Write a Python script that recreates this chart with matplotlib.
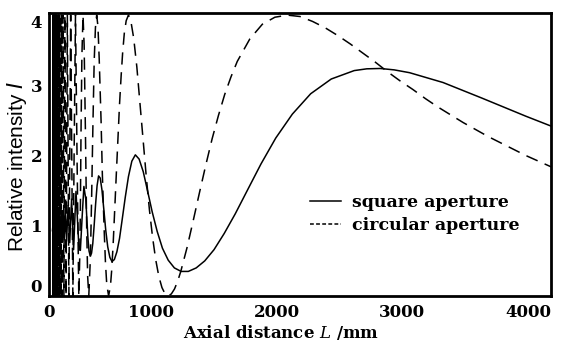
import matplotlib
matplotlib.use("Agg")
import matplotlib.pyplot as plt
from matplotlib.lines import Line2D

# ---------------- data ----------------
# circular aperture: axial distance (mm) and relative intensity
circ_L = [30.6, 31.1, 31.7, 32.2, 32.8, 33.3, 33.9, 34.5, 35.2, 35.8,
          36.5, 37.3, 38.0, 38.8, 39.6, 40.4, 41.3, 42.2, 43.2, 44.2,
          45.2, 46.3, 47.5, 48.7, 50.0, 51.4, 52.8, 54.3, 55.9, 57.6,
          59.4, 61.3, 63.3, 65.5, 67.9, 70.4, 73.1, 76.0, 79.2, 82.6,
          86.4, 90.5, 95.0, 100.0, 105.6, 111.8, 118.8, 126.7, 135.7, 146.2,
          158.3, 172.7, 190, 200, 211, 224, 237.5, 245, 250, 255,
          262, 271, 280, 290, 300, 308, 317, 330, 340, 350,
          360, 370, 380, 390, 400, 415, 425, 440, 450, 460,
          475, 490, 500, 512, 525, 537, 550, 562, 575, 587,
          600, 615, 633, 650, 675, 700, 725, 750, 775, 800,
          825, 850, 875, 900, 925, 950, 975, 1000, 1025, 1050,
          1100, 1150, 1200, 1250, 1300, 1350, 1400, 1450, 1500, 1600,
          1700, 1800, 1900, 2000, 2100, 2200, 2300, 2400, 2500, 2600,
          2700, 2800, 2900, 3000, 3100, 3200, 3300, 3400, 3500, 3600,
          3700, 3800, 3900, 4000]
circ_I = [0, 4, 0, 4, 0, 4, 0, 4, 0, 4,
          0, 4, 0, 4, 0, 4, 0, 4, 0, 4,
          0, 4, 0, 4, 0, 4, 0, 4, 0, 4,
          0, 4, 0, 4, 0, 4, 0, 4, 0, 4,
          0, 4, 0, 4, 0, 4, 0, 4, 0, 4,
          0, 4, 0, 2.0, 4.0, 1.89, 0, 0.56, 1.25, 2.31,
          3.41, 4.0, 3.57, 2.37, 1.0, 0.28, 0, 0.55, 1.44, 2.44,
          3.34, 3.82, 4.0, 3.84, 3.38, 2.49, 1.74, 0.92, 0.47, 0.17,
          0, 0.15, 0.38, 0.77, 1.30, 1.76, 2.26, 2.73, 3.14, 3.47,
          3.74, 3.92, 4.0, 3.94, 3.67, 3.26, 2.74, 2.21, 1.70, 1.23,
          0.84, 0.52, 0.28, 0.12, 0.03, 0, 0.03, 0.10, 0.21, 0.35,
          0.69, 1.08, 1.48, 1.87, 2.24, 2.57, 2.87, 3.12, 3.34, 3.66,
          3.87, 3.97, 4.0, 3.98, 3.91, 3.82, 3.71, 3.59, 3.46, 3.33,
          3.19, 3.06, 2.94, 2.81, 2.69, 2.58, 2.47, 2.37, 2.27, 2.18,
          2.09, 2.00, 1.92, 1.84]

# square aperture
sq_L = [28, 34, 40, 46, 52, 58, 64, 70, 76, 83,
        90, 98, 105, 113, 121, 130, 140, 152, 165, 180,
        196, 215, 237.5, 250, 263, 278, 293, 310, 319, 329,
        339, 349, 360, 371, 383, 395, 408, 422, 437, 452,
        468, 485, 502, 521, 541, 562, 584, 608, 633, 660,
        688, 718, 751, 785, 822, 862, 904, 950, 999, 1053,
        1110, 1173, 1241, 1315, 1396, 1484, 1582, 1689, 1807, 1939,
        2085, 2249, 2432, 2532, 2639, 2751, 2873, 3140, 3447, 3800,
        4000]
sq_I = [0.93, 1.08, 0.91, 1.09, 0.90, 1.11, 0.88, 1.13, 0.86, 1.15,
        0.84, 1.18, 0.82, 1.20, 0.80, 1.25, 0.78, 1.29, 0.76, 1.38,
        0.66, 1.49, 0.72, 0.65, 1.09, 1.56, 1.38, 0.83, 0.64, 0.57,
        0.61, 0.75, 1.01, 1.30, 1.57, 1.71, 1.68, 1.51, 1.23, 0.94,
        0.70, 0.55, 0.49, 0.52, 0.63, 0.82, 1.10, 1.41, 1.70, 1.92,
        2.01, 1.95, 1.77, 1.50, 1.20, 0.92, 0.68, 0.51, 0.40, 0.35,
        0.35, 0.40, 0.50, 0.66, 0.89, 1.17, 1.51, 1.88, 2.25, 2.59,
        2.88, 3.09, 3.21, 3.235, 3.24, 3.22, 3.18, 3.04, 2.82, 2.56,
        2.42]

x_ticks = [0, 1000, 2000, 3000, 4000]
y_ticks = [0, 1, 2, 3, 4]
legend_labels = ["square aperture", "circular aperture"]

# ---------------- figure ----------------
W, H = 563, 349
fig = plt.figure(figsize=(W / 100, H / 100), dpi=100)
ax = fig.add_axes([49 / W, 1 - 296 / H, (551 - 49) / W, (296 - 13) / H])

lw = 1.1
ax.plot(sq_L, sq_I, color="black", lw=lw, solid_joinstyle="round")
ax.plot(circ_L, circ_I, color="black", lw=lw, dashes=(8, 5))

ax.set_xlim(0, 4000)
ax.set_ylim(0, 4.03)
for s in ax.spines.values():
    s.set_linewidth(2.0)

tick_font = dict(family="DejaVu Serif", weight="bold", size=12)
ax.set_xticks(x_ticks)
ax.set_yticks(y_ticks)
ax.set_xticklabels([str(v) for v in x_ticks], **tick_font)
ax.set_yticklabels([str(v) for v in y_ticks], **tick_font)
ax.tick_params(axis="both", length=0)
ax.tick_params(axis="x", pad=6)
ax.tick_params(axis="y", pad=5)
for i, lab in enumerate(ax.get_xticklabels()):
    lab.set_ha("center" if i == 0 else "right")
ylabs = ax.get_yticklabels()
ylabs[-1].set_va("top")
ylabs[0].set_va("bottom")

fig.text(281 / W, 1 - 333 / H, "Axial distance $L$ /mm", ha="center", va="center",
         family="DejaVu Serif", weight="bold", size=12, math_fontfamily="dejavuserif")
fig.text(17 / W, 1 - 166 / H, "Relative intensity $I$", ha="center", va="center",
         rotation=90, family="Liberation Sans", size=15, math_fontfamily="dejavusans")

handles = [Line2D([], [], color="black", lw=lw),
           Line2D([], [], color="black", lw=lw, dashes=(2.5, 1.5))]
leg = ax.legend(handles, legend_labels, loc="upper left",
                bbox_to_anchor=((310 - 49) / (551 - 49), (296 - 194) / (296 - 13)),
                frameon=False, borderpad=0, borderaxespad=0, handlelength=1.8,
                handletextpad=0.6, labelspacing=0.35,
                prop=dict(family="DejaVu Serif", weight="bold", size=12.5))

fig.savefig("out.png", dpi=100)
